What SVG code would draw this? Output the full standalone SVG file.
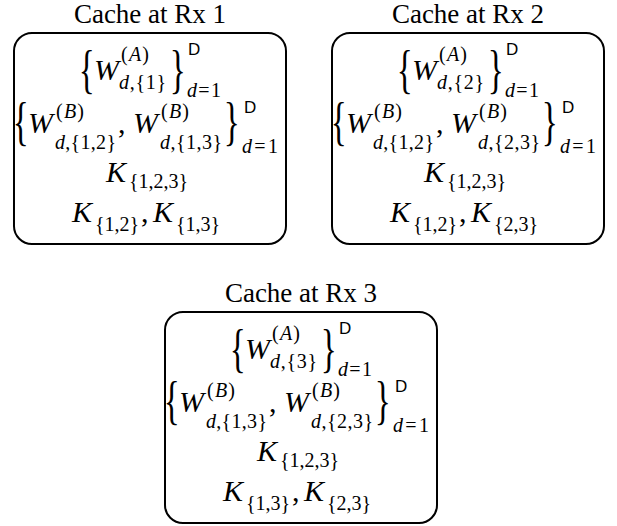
<svg xmlns="http://www.w3.org/2000/svg" width="617" height="526" viewBox="0 0 617 526">
<style>
.box{fill:#fff;stroke:#000;stroke-width:2}
.ttl{font-family:"Liberation Serif","Times New Roman",serif;font-size:27px;text-anchor:middle;fill:#000}
.m{font-family:"Liberation Serif","Times New Roman",serif;font-style:italic;font-size:30px;fill:#000}
.s{font-family:"Liberation Serif","Times New Roman",serif;font-size:20px;fill:#000}
.i{font-style:italic}
.r{font-family:"Liberation Serif","Times New Roman",serif;font-size:30px;fill:#000}
.br{font-family:"Liberation Serif","Times New Roman",serif;font-size:52px;fill:#000}
.D{font-family:"Liberation Sans",Arial,sans-serif;font-size:17px;fill:#000}
</style>
<defs>
<g id="frame">
<rect class="box" x="14" y="33" width="272" height="211" rx="18"/>
<text class="br" transform="translate(78.7,87) scale(0.64,1)">{</text>
<text class="m" x="94" y="80">W</text>
<text class="s" x="121" y="61" textLength="28">(<tspan class="i">A</tspan>)</text>
<text class="br" transform="translate(169.7,87) scale(0.64,1)">}</text>
<text class="D" x="188" y="55">D</text>
<text class="s" x="187" y="97" textLength="34"><tspan class="i">d</tspan>=1</text>
<text class="br" transform="translate(12.7,139) scale(0.64,1)">{</text>
<text class="m" x="28" y="133">W</text>
<text class="s" x="56" y="118" textLength="28">(<tspan class="i">B</tspan>)</text>
<text class="r" x="118" y="133">,</text>
<text class="m" x="133" y="133">W</text>
<text class="s" x="161" y="118" textLength="28">(<tspan class="i">B</tspan>)</text>
<text class="br" transform="translate(223.7,139) scale(0.64,1)">}</text>
<text class="D" x="244" y="113">D</text>
<text class="s" x="242" y="153" textLength="36"><tspan class="i">d</tspan>=1</text>
<text class="m" x="106" y="182">K</text>
<text class="s" x="129" y="188">{1,2,3}</text>
<text class="m" x="72" y="222">K</text>
<text class="r" x="141" y="222">,</text>
<text class="m" x="153" y="222">K</text>
</g>
</defs>
<g id="cache-rx1">
<text class="ttl" x="150" y="23">Cache at Rx 1</text>
<use href="#frame"/>
<text class="s" x="119" y="89" textLength="47"><tspan class="i">d</tspan>,{1}</text>
<text class="s" x="55" y="149" textLength="61"><tspan class="i">d</tspan>,{1,2}</text>
<text class="s" x="160" y="149" textLength="62"><tspan class="i">d</tspan>,{1,3}</text>
<text class="s" x="95" y="231">{1,2}</text>
<text class="s" x="176" y="231">{1,3}</text>
</g>
<g id="cache-rx2" transform="translate(318,0)">
<text class="ttl" x="150" y="23">Cache at Rx 2</text>
<use href="#frame"/>
<text class="s" x="119" y="89" textLength="47"><tspan class="i">d</tspan>,{2}</text>
<text class="s" x="55" y="149" textLength="61"><tspan class="i">d</tspan>,{1,2}</text>
<text class="s" x="160" y="149" textLength="62"><tspan class="i">d</tspan>,{2,3}</text>
<text class="s" x="95" y="231">{1,2}</text>
<text class="s" x="176" y="231">{2,3}</text>
</g>
<g id="cache-rx3" transform="translate(151,279)">
<text class="ttl" x="150" y="23">Cache at Rx 3</text>
<use href="#frame"/>
<text class="s" x="119" y="89" textLength="47"><tspan class="i">d</tspan>,{3}</text>
<text class="s" x="55" y="149" textLength="61"><tspan class="i">d</tspan>,{1,3}</text>
<text class="s" x="160" y="149" textLength="62"><tspan class="i">d</tspan>,{2,3}</text>
<text class="s" x="95" y="231">{1,3}</text>
<text class="s" x="176" y="231">{2,3}</text>
</g>
</svg>
